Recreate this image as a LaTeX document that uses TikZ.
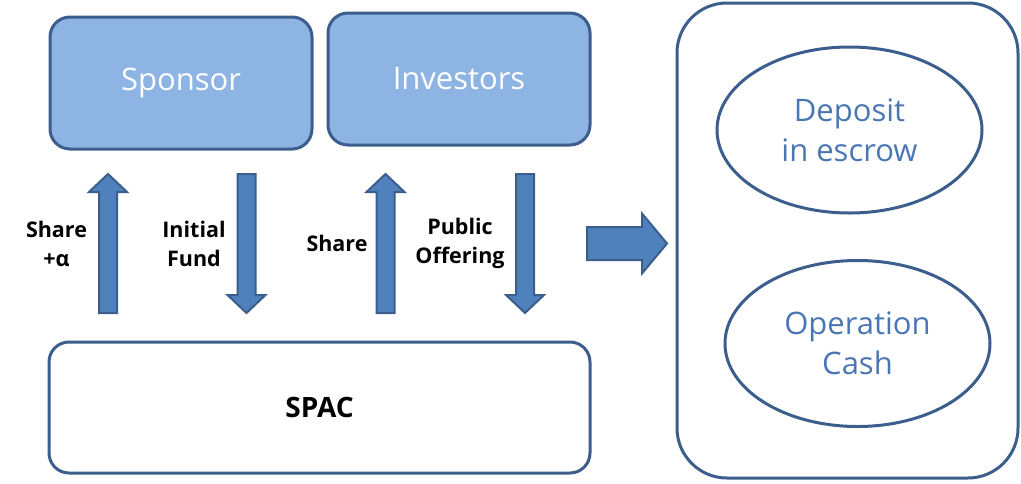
\documentclass[tikz,border=0pt]{standalone}
\usepackage{fontspec}
\setmainfont{Open Sans}
\usetikzlibrary{shapes.geometric}
\definecolor{boxblue}{RGB}{141, 180, 227}
\definecolor{edgeblue}{RGB}{59, 94, 140}
\definecolor{arrowblue}{RGB}{79, 129, 189}
\definecolor{poolblue}{RGB}{74, 118, 180}

\begin{document}
\begin{tikzpicture}[x=1pt, y=-1pt,
  party/.style={draw=edgeblue, line width=3pt, fill=boxblue, rounded corners=20pt,
    minimum width=262pt, minimum height=132pt, text=white, font=\fontsize{31}{37}\selectfont},
  pool/.style={ellipse, draw=edgeblue, line width=3pt, minimum width=265pt, minimum height=166pt,
    inner sep=0pt, text=poolblue, align=center, font=\fontsize{31}{40}\selectfont},
  flowbody/.style={draw=edgeblue, line width=2pt, fill=arrowblue, line join=miter},
  vflow/.pic={\draw[flowbody] (-9,0) -- (-9,-121) -- (-19,-121) -- (0,-139) -- (19,-121) -- (9,-121) -- (9,0) -- cycle;},
  hflow/.pic={\draw[flowbody] (0,-16.5) -- (55,-16.5) -- (55,-30) -- (80,0) -- (55,30) -- (55,16.5) -- (0,16.5) -- cycle;},
  flowlabel/.style={align=center, font=\bfseries\fontsize{21.5}{29}\selectfont}]
  \useasboundingbox (0,0) rectangle (1021,483);

  \node[party] (sponsor) at (181,83) {Sponsor};
  \node[party] (investors) at (459,79) {Investors};
  \node[draw=edgeblue, line width=3pt, rounded corners=20pt, minimum width=541pt, minimum height=131pt,
    font=\bfseries\fontsize{28}{34}\selectfont] (spac) at (319.5,407.5) {SPAC};

  \node[draw=edgeblue, line width=3pt, rounded corners=50pt, minimum width=341pt, minimum height=475pt]
    (account) at (847.5,240.5) {};
  \node[pool] (escrow) at (849.5,130) {Deposit\\in escrow};
  \node[pool] (opcash) at (857.5,343.5) {Operation\\Cash};

  \pic (shareup) at (108,313) {vflow};
  \pic[rotate=180] (funddown) at (246.5,174) {vflow};
  \pic (shareup2) at (385.5,313) {vflow};
  \pic[rotate=180] (offerdown) at (525,174) {vflow};
  \pic (toaccount) at (587,243.5) {hflow};

  \node[flowlabel] (lshare) at (56.5,243.5) {Share\\+α};
  \node[flowlabel] (lfund) at (194,243.5) {Initial\\Fund};
  \node[flowlabel] (lshare2) at (337,243) {Share};
  \node[flowlabel] (loffer) at (460,243.5) {Public\\Offering};
\end{tikzpicture}
\end{document}
